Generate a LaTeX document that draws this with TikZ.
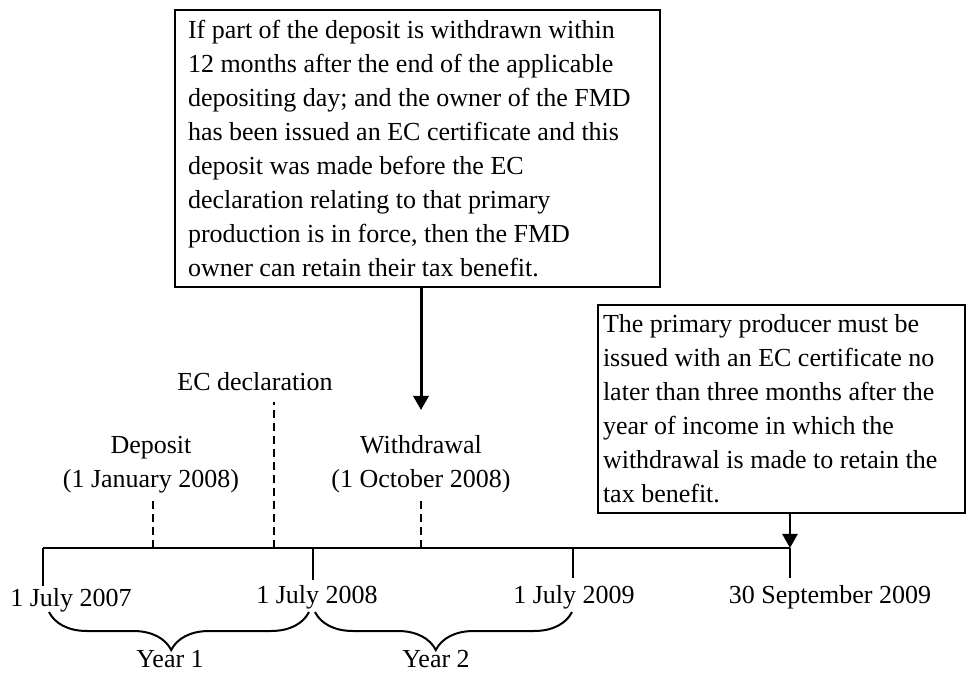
\documentclass[tikz,border=0pt]{standalone}
\usepackage{fontspec}
\setmainfont{Liberation Serif}
\usetikzlibrary{positioning,arrows.meta,decorations.pathreplacing}

\begin{document}
\begin{tikzpicture}[x=0.5pt, y=-0.5pt, >={Triangle[width=7.5pt,length=7pt]},
  every node/.style={font=\fontsize{13}{17}\selectfont},
  note/.style={draw, line width=0.9pt, align=flush left, inner xsep=6.5pt, inner ysep=0pt},
  tick/.style={line width=1pt},
  marker/.style={line width=1pt, dash pattern=on 4pt off 2.5pt},
  yearbrace/.style={line width=1pt, decorate, decoration={brace, mirror, amplitude=19pt, aspect=0.47}}]
  \useasboundingbox (0,0) rectangle (966,674);

  \node[note, text width=229.5pt, minimum height=138.5pt] (rule) at (417.5,148.5)
    {If part of the deposit is withdrawn within\\
     12 months after the end of the applicable\\
     depositing day; and the owner of the FMD\\
     has been issued an EC certificate and this\\
     deposit was made before the EC\\
     declaration relating to that primary\\
     production is in force, then the FMD\\
     owner can retain their tax benefit.};
  \node[note, text width=178.5pt, inner xsep=2.5pt, minimum height=104pt] (limit) at (781.5,409)
    {The primary producer must be\\
     issued with an EC certificate no\\
     later than three months after the\\
     year of income in which the\\
     withdrawal is made to retain the\\
     tax benefit.};

  \coordinate (t0) at (43,548);
  \coordinate (t1) at (313,548);
  \coordinate (t2) at (573,548);
  \coordinate (t3) at (790,548);
  \coordinate (dep) at (153,548);
  \coordinate (ecd) at (274,548);
  \coordinate (wdl) at (421,548);
  \coordinate (wdltop) at (421,410);

  \draw[tick] (t0) -- (t3);
  \draw[tick] (t0) -- ++(0,38);
  \draw[tick] (t1) -- ++(0,32);
  \draw[tick] (t2) -- ++(0,30);
  \draw[tick] (t3) -- ++(0,30);

  \draw[marker] (dep) -- ++(0,-48);
  \draw[marker] (ecd) -- ++(0,-146);
  \draw[marker] (wdl) -- ++(0,-48);

  \node[align=center] (deplbl) at (151,464.5) {Deposit\\(1 January 2008)};
  \node (ecdlbl) at (255,382) {EC declaration};
  \node[align=center] (wdllbl) at (421,464.5) {Withdrawal\\(1 October 2008)};

  \node (d0) at (71,600) {1 July 2007};
  \node (d1) at (317,597) {1 July 2008};
  \node (d2) at (574,597) {1 July 2009};
  \node (d3) at (830,597) {30 September 2009};

  \coordinate (y1a) at (49,612);
  \coordinate (y1b) at (309,612);
  \coordinate (y2a) at (315,612);
  \coordinate (y2b) at (572,612);
  \draw[yearbrace] (y1a) -- (y1b);
  \draw[yearbrace] (y2a) -- (y2b);
  \node[inner sep=0pt] (y1) at (170,659) {Year 1};
  \node[inner sep=0pt] (y2) at (436,659) {Year 2};

  \draw[->, line width=1.5pt] (rule.south -| wdl) -- (wdltop);
  \draw[->, line width=1.2pt] (limit.south -| t3) -- (t3);
\end{tikzpicture}
\end{document}
